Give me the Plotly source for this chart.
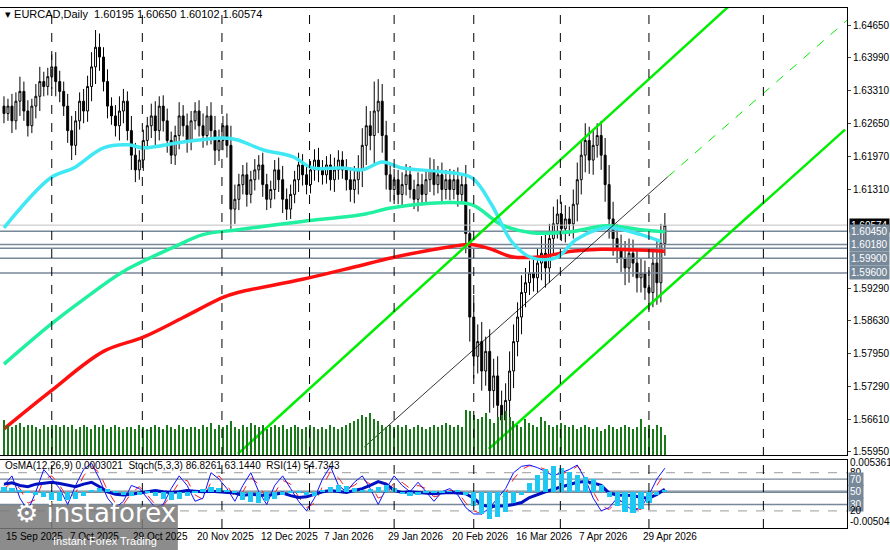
import plotly.graph_objects as go
import plotly.subplots as sp

# daily closes, one per bar (bar index = position)
closes = [
    1.6285, 1.6300, 1.6270, 1.6310, 1.6330, 1.6290, 1.6260, 1.6300, 1.6320, 1.6350, 1.6340, 1.6360, 1.6380, 1.6350, 1.6330, 1.6300,
    1.6250, 1.6220, 1.6270, 1.6310, 1.6290, 1.6340, 1.6380, 1.6420, 1.6400, 1.6350, 1.6300, 1.6280, 1.6260, 1.6290, 1.6310, 1.6250,
    1.6200, 1.6170, 1.6190, 1.6230, 1.6260, 1.6280, 1.6250, 1.6300, 1.6270, 1.6230, 1.6200, 1.6240, 1.6280, 1.6260, 1.6230, 1.6270,
    1.6290, 1.6260, 1.6240, 1.6280, 1.6250, 1.6210, 1.6230, 1.6260, 1.6220, 1.6090, 1.6110, 1.6140, 1.6160, 1.6120, 1.6150, 1.6170,
    1.6180, 1.6140, 1.6110, 1.6130, 1.6170, 1.6150, 1.6110, 1.6090, 1.6120, 1.6150, 1.6180, 1.6160, 1.6140, 1.6170, 1.6190, 1.6170,
    1.6160, 1.6180, 1.6150, 1.6170, 1.6190, 1.6170, 1.6150, 1.6130, 1.6150, 1.6170, 1.6220, 1.6260, 1.6240, 1.6290, 1.6310, 1.6240,
    1.6160, 1.6130, 1.6150, 1.6120, 1.6140, 1.6160, 1.6130, 1.6110, 1.6140, 1.6120, 1.6150, 1.6170, 1.6140, 1.6160, 1.6130, 1.6150,
    1.6130, 1.6150, 1.6120, 1.6140, 1.6040, 1.5870, 1.5790, 1.5820, 1.5760, 1.5800, 1.5720, 1.5750, 1.5690, 1.5660, 1.5700, 1.5760,
    1.5820, 1.5870, 1.5920, 1.5940, 1.5960, 1.5950, 1.5980, 1.6000, 1.5970, 1.6030, 1.6060, 1.6080, 1.6050, 1.6070, 1.6060, 1.6100,
    1.6150, 1.6200, 1.6230, 1.6190, 1.6220, 1.6240, 1.6200, 1.6140, 1.6070, 1.6030, 1.6010, 1.5990, 1.5970, 1.6000, 1.5980, 1.5950,
    1.5960, 1.5930, 1.5920, 1.5980, 1.5940, 1.6020, 1.6057,
]
first_open = 1.6300

# wick length per bar, in pips
wick_pips = [
    20, 15, 25, 18, 30, 20, 22, 15, 25, 30, 20, 18, 25, 30, 22, 20,
    25, 30, 20, 18, 25, 22, 30, 35, 28, 20, 25, 18, 22, 30, 25, 20,
    30, 25, 20, 22, 18, 25, 30, 20, 22, 25, 18, 20, 28, 22, 25, 20,
    18, 22, 25, 20, 28, 30, 22, 20, 25, 40, 30, 22, 20, 25, 18, 22,
    20, 25, 22, 18, 20, 25, 28, 22, 20, 18, 25, 22, 20, 18, 22, 25,
    20, 18, 22, 25, 20, 18, 22, 25, 28, 30, 35, 40, 30, 60, 45, 35,
    30, 25, 22, 20, 25, 22, 18, 20, 25, 22, 20, 25, 22, 18, 25, 20,
    22, 20, 25, 18, 40, 50, 45, 35, 40, 30, 45, 35, 40, 30, 35, 40,
    35, 30, 35, 30, 25, 28, 30, 35, 40, 30, 35, 30, 25, 28, 25, 30,
    35, 30, 35, 28, 30, 25, 30, 35, 40, 35, 30, 28, 35, 30, 28, 30,
    30, 25, 35, 30, 45, 40, 25,
]

volumes = [
    35, 30, 28, 30, 32, 28, 30, 30, 28, 26, 30, 28, 30, 30, 28, 30,
    28, 30, 26, 28, 30, 28, 26, 30, 28, 30, 26, 28, 30, 28, 26, 28,
    28, 26, 30, 28, 26, 28, 30, 28, 26, 30, 28, 26, 30, 28, 26, 28,
    28, 26, 30, 28, 32, 26, 30, 28, 30, 34, 28, 26, 30, 28, 32, 30,
    28, 30, 26, 28, 30, 28, 30, 26, 28, 30, 28, 26, 28, 30, 28, 26,
    28, 26, 30, 28, 26, 28, 30, 32, 34, 36, 40, 38, 42, 36, 34, 30,
    28, 30, 28, 30, 28, 30, 26, 28, 30, 28, 26, 28, 30, 28, 30, 32,
    30, 28, 30, 28, 45, 44, 40, 36, 38, 42, 36, 32, 38, 40, 44, 38,
    34, 30, 28, 36, 32, 30, 28, 38, 34, 30, 28, 30, 32, 30, 28, 30,
    26, 28, 30, 28, 26, 28, 24, 26, 30, 28, 26, 28, 30, 28, 26, 28,
    36, 28, 30, 26, 30, 28, 20,
]

# moving averages (bar index, price)
ma_fast_x = [0, 11.75, 17.5, 25, 31.25, 35, 45, 55, 58.75, 65, 72.5, 77.5, 85, 90, 95, 100,
             110, 117.5, 122.5, 127.5, 132.5, 138.75, 143.75, 151.25, 160, 165]
ma_fast_y = [1.6052, 1.6154, 1.6174, 1.6215, 1.6221, 1.6215, 1.6227, 1.6235, 1.6231, 1.6211,
             1.6197, 1.6174, 1.6174, 1.6170, 1.6186, 1.6174, 1.6166, 1.6154, 1.6099, 1.6024,
             1.5991, 1.5991, 1.6028, 1.6052, 1.6038, 1.6024]
ma_mid_x = [0, 11.75, 20, 30, 42.5, 50, 58.75, 75, 90, 97.5, 110, 117.5, 125, 132.5, 142.5, 151.25, 160, 166]
ma_mid_y = [1.5774, 1.5855, 1.5906, 1.5963, 1.6012, 1.6038, 1.6048, 1.6065, 1.6079, 1.6093,
            1.6103, 1.6099, 1.6058, 1.6042, 1.6044, 1.6056, 1.6048, 1.6044]
ma_slow_x = [0, 11.75, 25, 35, 45, 55, 58.75, 75, 87.5, 97.5, 112.5, 117.5, 122.5, 127.5, 135, 142.5, 150, 166]
ma_slow_y = [1.5642, 1.5719, 1.5800, 1.5829, 1.5869, 1.5910, 1.5920, 1.5947, 1.5971, 1.5991,
             1.6014, 1.6018, 1.6008, 1.5993, 1.5993, 1.6004, 1.6008, 1.6004]

# channel lines (bar index, price)
chan_upper = ([58.75, 183.75], [1.5591, 1.6516])
chan_lower = ([121.75, 211.25], [1.5601, 1.6252])
chan_mid = ([90.5, 166.75], [1.5605, 1.6156])
chan_mid_ext = ([166.75, 211.75], [1.6156, 1.6475])

levels = [1.60450, 1.60180, 1.60100, 1.59900, 1.59600]
level_tags = ["1.60450", "1.60180", "1.59900", "1.59600"]
bid = 1.60574

price_ticks = [1.64650, 1.63990, 1.63310, 1.62650, 1.61970, 1.61310, 1.59290, 1.58630, 1.57950, 1.57290, 1.56610, 1.55950]

date_bars = [0, 16, 32, 48, 64, 80, 96, 112, 128, 144, 160]
date_labels = ["15 Sep 2025", "7 Oct 2025", "29 Oct 2025", "20 Nov 2025", "12 Dec 2025", "7 Jan 2026",
               "29 Jan 2026", "20 Feb 2026", "16 Mar 2026", "7 Apr 2026", "29 Apr 2026"]
grid_bars = [12, 34.75, 54.75, 76.75, 98, 118, 139.75, 162, 190.75]

# oscillators, one value every 2 bars
osc_x = list(range(0, 168, 2))
stoch_main = [60, 75, 40, 20, 50, 85, 70, 55, 30, 60,
              85, 95, 70, 40, 25, 35, 60, 55, 40, 25,
              30, 55, 75, 60, 35, 40, 80, 70, 55, 35,
              60, 80, 50, 30, 60, 75, 55, 35, 20, 40,
              70, 90, 60, 50, 65, 75, 55, 30, 55, 75,
              60, 50, 65, 50, 35, 50, 55, 45, 25, 15,
              15, 25, 40, 55, 80, 90, 92, 88, 82, 75,
              80, 85, 92, 70, 40, 20, 25, 40, 30, 20,
              25, 45, 70, 87]
stoch_signal = [55, 65, 55, 32, 38, 70, 75, 60, 40, 48,
                75, 90, 80, 52, 32, 30, 48, 58, 45, 30,
                28, 45, 65, 68, 45, 38, 65, 75, 60, 42,
                50, 72, 62, 38, 48, 68, 62, 42, 25, 32,
                58, 82, 72, 55, 60, 70, 62, 40, 45, 65,
                65, 55, 60, 55, 42, 45, 52, 50, 32, 20,
                15, 20, 32, 48, 70, 85, 91, 90, 85, 78,
                78, 82, 90, 78, 50, 28, 22, 35, 35, 25,
                22, 38, 60, 80]
rsi = [62, 64, 60, 58, 62, 64, 65, 63, 60, 58,
       62, 65, 58, 50, 46, 45, 46, 48, 50, 52,
       50, 49, 50, 52, 51, 50, 51, 50, 49, 48,
       44, 46, 45, 44, 46, 48, 44, 41, 42, 46,
       50, 52, 51, 49, 52, 55, 60, 66, 62, 52,
       49, 50, 49, 48, 47, 48, 49, 48, 47, 40,
       29, 27, 27, 28, 30, 33, 41, 46, 50, 54,
       58, 62, 65, 66, 64, 60, 48, 45, 44, 44,
       41, 40, 46, 54]
osma = [0.0008, 0.0006, 0.0003, -0.0002, -0.0006, -0.0010, -0.0014, -0.0016, -0.0015, -0.0012,
        -0.0008, 0.0002, 0.0006, 0.0004, -0.0002, -0.0005, -0.0008, -0.0006, -0.0003, -0.0008,
        -0.0012, -0.0015, -0.0013, -0.0008, -0.0002, 0.0004, 0.0008, 0.0006, 0.0002, -0.0003,
        -0.0014, -0.0018, -0.0020, -0.0016, -0.0012, -0.0006, -0.0003, -0.0002, -0.0006, -0.0008,
        0.0003, 0.0008, 0.0012, 0.0010, 0.0006, 0.0003, 0.0004, 0.0008, 0.0012, 0.0006,
        -0.0004, -0.0008, -0.0006, -0.0003, -0.0002, -0.0001, 0.0001, 0.0002, -0.0005, -0.0025,
        -0.0040, -0.0048, -0.0045, -0.0035, -0.0020, -0.0005, 0.0015, 0.0030, 0.0040, 0.0045,
        0.0042, 0.0035, 0.0030, 0.0026, 0.0022, 0.0012, -0.0010, -0.0025, -0.0036, -0.0038,
        -0.0030, -0.0020, -0.0005, 0.0003]

FONT = "Liberation Sans"
TAG_BG = "#778899"

bars = list(range(len(closes)))
opens = [first_open] + closes[:-1]
highs = [max(o, c) + w / 10000 for o, c, w in zip(opens, closes, wick_pips)]
lows = [min(o, c) - w / 10000 for o, c, w in zip(opens, closes, wick_pips)]

fig = sp.make_subplots(
    rows=2, cols=1, shared_xaxes=True, vertical_spacing=0.01,
    row_heights=[447, 68],
    specs=[[{"secondary_y": True}], [{"secondary_y": True}]],
)

fig.add_trace(go.Bar(x=bars, y=volumes, marker=dict(color="#1a7a1a", line=dict(width=0)),
                     width=0.3), row=1, col=1, secondary_y=True)
fig.add_trace(go.Candlestick(
    x=bars, open=opens, high=highs, low=lows, close=closes,
    increasing=dict(line=dict(color="black", width=1), fillcolor="white"),
    decreasing=dict(line=dict(color="black", width=1), fillcolor="black"),
    whiskerwidth=0,
), row=1, col=1)

for lv in levels:
    fig.add_trace(go.Scatter(x=[-1, 211.75], y=[lv, lv], mode="lines",
                             line=dict(color=TAG_BG, width=1.5)), row=1, col=1)
fig.add_trace(go.Scatter(x=[-1, 211.75], y=[bid, bid], mode="lines",
                         line=dict(color="#c0c0c0", width=1)), row=1, col=1)

for xs, ys, color in [(ma_slow_x, ma_slow_y, "#ff1010"), (ma_mid_x, ma_mid_y, "#20f0a0"),
                      (ma_fast_x, ma_fast_y, "#40e8f4")]:
    fig.add_trace(go.Scatter(x=xs, y=ys, mode="lines", line=dict(color=color, width=3.5, shape="spline")),
                  row=1, col=1)

for (xs, ys) in [chan_upper, chan_lower]:
    fig.add_trace(go.Scatter(x=xs, y=ys, mode="lines", line=dict(color="#00ee00", width=2.5)), row=1, col=1)
fig.add_trace(go.Scatter(x=chan_mid[0], y=chan_mid[1], mode="lines",
                         line=dict(color="black", width=0.8)), row=1, col=1)
fig.add_trace(go.Scatter(x=chan_mid_ext[0], y=chan_mid_ext[1], mode="lines",
                         line=dict(color="#00ee00", width=1, dash="dash")), row=1, col=1)

# lower panel
fig.add_trace(go.Bar(x=osc_x, y=osma, marker=dict(color="#1ec8f5", line=dict(width=0)), width=1.3),
              row=2, col=1, secondary_y=True)
for lv, dash, color in [(80, "dash", "#b0b0b0"), (70, "solid", TAG_BG), (51, "solid", TAG_BG),
                        (49, "solid", TAG_BG), (30, "solid", TAG_BG), (20, "dash", "#b0b0b0")]:
    fig.add_trace(go.Scatter(x=[-1, 211.75], y=[lv, lv], mode="lines",
                             line=dict(color=color, width=1.3, dash=dash)), row=2, col=1)
fig.add_trace(go.Scatter(x=osc_x, y=stoch_signal, mode="lines",
                         line=dict(color="#ff2020", width=1, dash="dash")), row=2, col=1)
fig.add_trace(go.Scatter(x=osc_x, y=stoch_main, mode="lines",
                         line=dict(color="#1010ff", width=1)), row=2, col=1)
fig.add_trace(go.Scatter(x=osc_x, y=rsi, mode="lines",
                         line=dict(color="#0010c0", width=3)), row=2, col=1)

axis_common = dict(showline=True, linecolor="black", linewidth=1, mirror=True, automargin=False,
                   showgrid=False, zeroline=False, range=[-1, 211.75], showticklabels=False,
                   domain=[0, 1])
fig.update_xaxes(**axis_common, rangeslider_visible=False)

fig.update_layout(
    yaxis=dict(domain=[0.1404, 1], range=[1.55888, 1.65], side="right", tickvals=price_ticks,
               ticktext=[f"{v:.5f}" for v in price_ticks], ticks="outside", ticklen=3,
               showline=True, linecolor="black", mirror=True, showgrid=False, zeroline=False,
               automargin=False, tickfont=dict(family=FONT, size=10, color="black")),
    yaxis2=dict(range=[0, 448], visible=False, overlaying="y", automargin=False),
    yaxis3=dict(domain=[0, 0.1308], range=[-7, 100], showticklabels=False, showline=True,
                linecolor="black", mirror=True, showgrid=False, zeroline=False, automargin=False),
    yaxis4=dict(range=[-0.0064, 0.0056], visible=False, overlaying="y3", automargin=False),
    showlegend=False,
    plot_bgcolor="white",
    paper_bgcolor="white",
    width=890, height=550,
    margin=dict(l=0, r=43, t=8, b=22, autoexpand=False),
    bargap=0,
)

shapes = []
for gb in grid_bars:
    shapes.append(dict(type="line", xref="x", yref="paper", x0=gb, x1=gb, y0=0, y1=1,
                       line=dict(color="black", width=1, dash="dash")))
shapes.append(dict(type="rect", xref="paper", yref="paper", x0=0, x1=0.21, y0=-0.045, y1=0.044,
                   fillcolor="rgba(120,120,120,0.85)", line=dict(width=0)))
fig.update_layout(shapes=shapes)

ann = []
ann.append(dict(xref="paper", yref="paper", x=0.003, y=0.988, xanchor="left", yanchor="middle",
                text="▾ EURCAD,Daily  1.60195 1.60650 1.60102 1.60574", showarrow=False,
                font=dict(family=FONT, size=11, color="black")))
for b, lbl in zip(date_bars, date_labels):
    ann.append(dict(xref="x", yref="paper", x=b, y=0, xanchor="left", yanchor="top", yshift=-1,
                    text=lbl, showarrow=False, font=dict(family=FONT, size=10, color="black")))
ann.append(dict(xref="paper", yref="y", x=1, y=bid, xanchor="left", yanchor="middle", xshift=2,
                text="1.60574", showarrow=False, bgcolor="black",
                font=dict(family=FONT, size=10, color="white")))
for lv, tag in zip([1.60450, 1.60180, 1.59900, 1.59600], level_tags):
    ann.append(dict(xref="paper", yref="y", x=1, y=lv, xanchor="left", yanchor="middle", xshift=2,
                    text=tag, showarrow=False, bgcolor=TAG_BG, borderpad=1,
                    font=dict(family=FONT, size=10, color="white")))
for val, txt, bg in [(96, "0.005361", None), (80, "80", None), (70, "70", TAG_BG), (50, "50", TAG_BG),
                     (30, "30", TAG_BG), (21, "20", None), (4, "-0.005048", None)]:
    ann.append(dict(xref="paper", yref="y3", x=1, y=val, xanchor="left", yanchor="middle", xshift=1,
                    text=txt, showarrow=False, bgcolor=bg,
                    font=dict(family=FONT, size=10, color="white" if bg else "black")))
ann.append(dict(xref="paper", yref="y3", x=0.003, y=92, xanchor="left", yanchor="middle",
                text="OsMA(12,26,9) 0.0003021  Stoch(5,3,3) 86.8261 63.1440  RSI(14) 54.7343",
                showarrow=False, font=dict(family=FONT, size=10, color="black")))
ann.append(dict(xref="paper", yref="paper", x=0.015, y=0.028, xanchor="left", yanchor="middle",
                text="⚙ instaforex", showarrow=False,
                font=dict(family="DejaVu Sans", size=26, color="white")))
ann.append(dict(xref="paper", yref="paper", x=0.06, y=-0.025, xanchor="left", yanchor="middle",
                text="Instant Forex Trading", showarrow=False,
                font=dict(family=FONT, size=11, color="white")))
fig.update_layout(annotations=ann)

fig.write_html("out.html", config={"displayModeBar": False},
               post_script="document.body.style.margin='0';")
